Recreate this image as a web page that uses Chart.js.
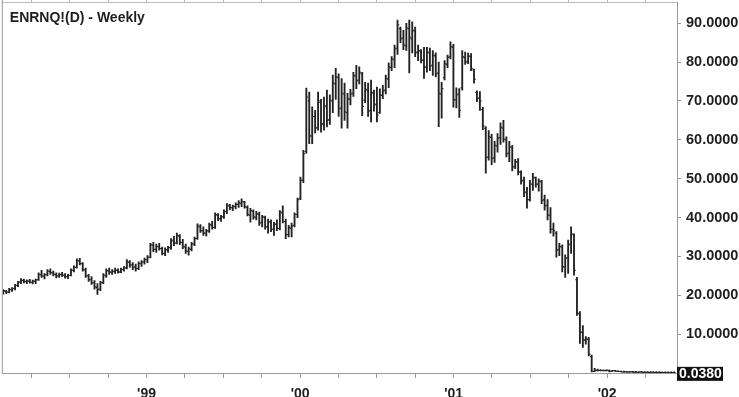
<!DOCTYPE html>
<html>
<head>
<meta charset="utf-8">
<script src="https://cdn.jsdelivr.net/npm/chart.js@4.4.1/dist/chart.umd.min.js"></script>
<style>
  html, body { margin: 0; padding: 0; background: #fff; }
  #wrap { width: 739px; height: 397px; }
</style>
</head>
<body>
<div id="wrap"><canvas id="enronChart"></canvas></div>
<script>
// weekly OHLC, one entry per week starting Jan 1998
const opens = [
  20.6,21.0,20.8,21.4,21.7,22.5,23.4,23.8,23.5,23.6,
  23.3,23.6,24.0,25.3,24.9,25.3,26.1,25.8,25.3,25.0,
  25.3,25.1,24.8,25.1,26.4,27.2,28.8,28.1,26.5,25.0,
  24.0,23.2,22.0,21.6,23.3,25.0,26.2,25.9,26.1,26.4,
  26.0,26.6,27.0,28.5,27.8,27.3,26.9,28.1,28.5,29.1,
  29.8,32.8,31.8,32.5,32.0,30.7,31.6,32.2,34.0,33.5,
  35.2,33.6,32.4,31.3,31.8,33.2,34.6,37.6,36.6,36.0,
  36.5,38.0,37.5,40.6,39.6,40.2,41.5,43.0,42.5,42.8,
  43.4,43.6,44.0,42.6,40.6,41.6,40.0,40.8,38.8,40.0,
  37.6,38.8,37.0,38.2,37.2,41.2,39.0,35.6,37.2,38.0,
  40.8,45.0,49.6,57.0,70.0,61.0,66.0,63.2,69.6,64.2,
  68.5,65.2,70.0,74.4,76.0,68.2,71.8,67.0,70.4,72.0,
  76.4,75.4,77.0,70.2,72.8,67.6,72.0,69.2,67.0,71.4,
  72.8,75.6,78.6,80.6,83.6,88.6,86.2,84.2,88.6,86.0,
  88.0,82.6,82.8,80.6,78.8,82.4,79.2,81.6,77.2,71.8,
  76.0,79.4,81.4,83.8,70.2,71.8,73.4,81.2,80.2,81.4,
  78.0,72.2,70.8,67.8,63.0,55.6,60.6,55.4,58.4,60.6,
  63.0,60.0,56.6,58.0,53.2,54.2,51.6,49.4,46.6,44.6,
  48.6,50.2,48.6,49.2,44.6,43.2,40.6,37.0,36.0,31.8,
  32.4,27.2,29.6,33.2,35.6,24.0,15.2,10.4,8.4,8.6,
  4.2,0.40,0.70,0.66,0.62,0.60,0.68,0.45,0.60,0.47,
  0.38,0.30,0.28,0.24,0.30,0.22,0.18,0.24,0.18,0.20,
  0.15,0.18,0.14,0.12,0.11,0.10,0.08,0.07,0.05
];
const highs = [
  21.5,21.3,21.8,22.0,22.8,23.6,24.3,24.2,24.0,24.1,
  23.9,24.2,25.8,26.4,25.6,26.6,26.8,26.2,25.8,25.7,
  25.9,25.6,25.4,26.8,27.6,29.4,29.5,28.4,27.0,25.4,
  24.8,23.8,23.0,23.6,25.6,26.8,27.0,26.6,27.0,26.8,
  27.0,27.4,29.2,28.9,28.4,28.0,28.6,28.9,29.6,30.2,
  33.4,33.6,33.2,33.4,32.4,32.2,32.6,34.6,35.2,36.0,
  35.6,34.4,33.2,32.4,33.6,35.0,38.4,38.2,37.6,37.0,
  38.6,39.0,41.2,41.0,40.6,42.0,43.6,43.4,43.2,43.8,
  44.4,44.8,44.2,43.0,42.4,42.0,41.6,41.4,40.6,40.4,
  39.6,39.4,38.8,39.4,41.8,43.0,39.6,38.0,38.6,41.2,
  45.0,50.4,57.3,73.3,72.3,68.5,67.6,72.3,70.4,71.0,
  72.8,71.6,76.7,78.4,77.0,75.8,74.6,72.0,73.0,77.4,
  79.2,78.8,77.4,74.8,74.6,75.4,72.8,73.6,73.1,74.0,
  76.7,79.8,81.4,84.4,90.8,89.0,88.2,90.0,90.8,90.4,
  89.0,84.4,83.2,83.8,83.8,83.6,83.0,82.4,80.0,74.8,
  80.4,81.8,85.2,84.6,73.4,73.2,83.0,82.6,82.3,82.2,
  78.2,72.6,72.4,68.4,63.4,62.4,61.4,59.6,61.6,64.4,
  65.0,60.8,59.6,58.6,55.0,55.2,52.0,50.4,47.8,49.6,
  51.4,50.4,50.0,49.6,45.8,44.6,42.6,38.6,36.4,33.4,
  33.0,30.4,34.2,37.6,35.8,24.6,15.8,12.2,9.4,9.2,
  4.6,1.20,1.01,0.85,0.74,0.80,0.72,0.70,0.68,0.55,
  0.45,0.40,0.36,0.40,0.38,0.30,0.28,0.30,0.26,0.24,
  0.22,0.24,0.20,0.18,0.16,0.15,0.12,0.10,0.08
];
const lows = [
  20.3,20.4,20.6,21.0,21.4,22.2,23.0,23.2,23.0,23.1,
  22.9,23.0,23.8,24.6,24.2,25.0,25.4,25.0,24.5,24.6,
  24.8,24.4,24.3,25.0,26.0,27.0,27.8,26.2,24.6,23.6,
  22.8,21.6,20.2,21.2,23.0,24.6,25.4,25.4,25.6,25.7,
  25.8,26.2,26.8,27.2,26.6,26.2,26.6,27.4,28.0,28.4,
  29.6,31.2,31.0,31.6,30.4,30.2,31.0,31.8,32.8,33.2,
  33.0,32.0,30.8,30.3,31.4,32.8,34.4,36.2,35.4,35.2,
  36.2,37.0,37.2,39.2,39.0,39.8,41.0,42.0,41.8,42.2,
  42.6,42.8,42.4,40.4,38.8,39.6,39.4,38.0,37.6,37.0,
  36.0,36.4,35.4,36.6,36.8,38.6,34.6,35.0,35.0,37.6,
  40.0,44.6,49.0,56.6,59.0,59.0,61.8,62.5,62.0,62.5,
  63.3,64.0,67.0,70.4,66.0,63.0,65.0,63.0,69.0,71.2,
  73.2,74.4,66.2,69.6,66.0,64.6,67.4,64.6,66.8,70.6,
  71.8,73.4,77.8,78.6,82.0,85.0,83.2,83.0,77.2,82.4,
  81.4,80.4,79.8,75.8,77.4,77.8,76.6,76.2,63.4,65.6,
  75.4,78.6,80.8,68.4,68.2,65.8,72.8,79.4,79.6,77.8,
  74.6,69.8,67.6,62.6,51.4,54.8,53.6,54.2,56.8,58.8,
  59.4,55.6,54.4,52.0,52.6,51.0,48.6,45.4,42.4,44.2,
  47.0,47.8,46.8,43.6,41.9,39.4,36.0,35.2,29.8,30.2,
  26.0,24.6,25.6,30.8,25.2,14.8,7.6,6.6,7.4,4.4,
  0.25,0.36,0.50,0.52,0.55,0.55,0.30,0.40,0.42,0.32,
  0.26,0.22,0.20,0.20,0.18,0.15,0.14,0.15,0.12,0.12,
  0.10,0.12,0.09,0.08,0.07,0.06,0.05,0.04,0.03
];
const closes = [
  21.2,20.8,21.5,21.8,22.6,23.4,23.9,23.6,23.7,23.4,
  23.7,24.0,25.4,25.0,25.3,26.2,25.8,25.4,25.0,25.4,
  25.2,24.8,25.1,26.5,27.2,28.9,28.2,26.6,25.0,24.0,
  23.2,22.2,21.5,23.2,25.2,26.4,26.0,26.2,26.5,26.0,
  26.7,27.2,28.6,27.8,27.2,26.8,28.2,28.6,29.2,29.8,
  33.0,31.8,32.6,32.0,30.8,31.8,32.3,34.2,33.4,35.4,
  33.6,32.6,31.4,32.0,33.2,34.6,37.8,36.6,36.0,36.6,
  38.2,37.4,40.8,39.8,40.2,41.6,43.2,42.6,42.9,43.4,
  43.8,44.2,42.8,40.8,41.8,40.2,41.0,38.6,40.2,37.6,
  39.0,37.0,38.4,37.2,41.4,39.0,35.6,37.4,37.8,40.8,
  44.6,49.6,56.4,71.0,61.0,66.0,63.0,70.0,64.0,68.8,
  65.0,70.2,74.6,76.2,68.0,72.0,67.2,70.6,71.8,76.6,
  75.2,77.4,68.6,73.0,67.4,72.2,69.0,66.4,71.6,72.6,
  75.8,78.8,80.8,83.4,89.6,86.0,84.4,88.8,86.4,88.2,
  82.4,83.0,80.4,78.6,82.6,79.0,81.8,77.0,72.0,73.2,
  79.6,81.2,84.0,70.4,71.6,67.6,81.4,80.0,81.6,78.4,
  75.6,70.6,70.0,63.6,55.4,60.8,55.2,58.6,60.4,63.2,
  60.2,56.4,58.2,53.0,54.4,51.8,49.6,46.4,44.6,48.6,
  50.4,48.6,49.4,44.4,43.0,40.6,37.0,36.6,31.6,32.6,
  27.4,29.6,33.0,35.8,26.4,15.4,10.6,8.6,8.8,4.8,
  0.40,0.72,0.66,0.62,0.60,0.72,0.45,0.62,0.47,0.38,
  0.30,0.28,0.24,0.32,0.22,0.18,0.24,0.18,0.20,0.15,
  0.18,0.14,0.12,0.11,0.10,0.08,0.07,0.05,0.038
];

const yearLabels = ["'99", "'00", "'01", "'02"];
const firstYearWeek = 48.7;   // week index where 1999 starts
const weeksPerYear = 52.18;
const priceTicks = [10, 20, 30, 40, 50, 60, 70, 80, 90];
const chartTitle = "ENRNQ!(D) - Weekly";

const FONT = '"Liberation Sans", Arial, sans-serif';
const INK = "#1e1e1e";
const AXIS = "#9a9a9a";

// quarter tick marks, labelled only at the start of each year
const quarterTicks = [];
const tickText = {};
for (let k = -3; k <= 14; k++) {
  const w = firstYearWeek + k * weeksPerYear / 4;
  if (w < 0 || w > closes.length) continue;
  quarterTicks.push(w);
  tickText[w.toFixed(3)] = k >= 0 && k % 4 === 0 ? yearLabels[k / 4] || "" : "";
}

const ranges = highs.map((h, i) => ({ x: i, y: [lows[i], h] }));
const openPts = opens.map((o, i) => ({ x: i, y: o }));
const closePts = closes.map((c, i) => ({ x: i, y: c }));

const framePlugin = {
  id: "frame",
  afterDraw(chart) {
    const { ctx, chartArea } = chart;
    ctx.save();
    // left border
    ctx.strokeStyle = AXIS;
    ctx.lineWidth = 1;
    ctx.beginPath();
    ctx.moveTo(chartArea.left - 0.5, 0);
    ctx.lineTo(chartArea.left - 0.5, chartArea.bottom);
    ctx.stroke();
    // title
    ctx.fillStyle = INK;
    ctx.font = "bold 14px " + FONT;
    ctx.textBaseline = "alphabetic";
    ctx.fillText(chartTitle, chartArea.left + 7, 22);
    // last price box
    const last = closes[closes.length - 1];
    const y = chart.scales.y.getPixelForValue(last);
    ctx.fillStyle = "#111";
    ctx.fillRect(chartArea.right, y - 6, 46, 14);
    ctx.fillStyle = "#fff";
    ctx.textBaseline = "middle";
    ctx.fillText(last.toFixed(4), chartArea.right + 2, y + 1.5);
    ctx.restore();
  }
};

const noPad = (s) => {
  s.paddingTop = 0; s.paddingBottom = 0; s.paddingLeft = 0; s.paddingRight = 0;
};

const xCommon = {
  type: "linear",
  min: -0.17,
  max: 229,
  offset: false,
  afterBuildTicks: (s) => { s.ticks = quarterTicks.map((v) => ({ value: v })); }
};

new Chart(document.getElementById("enronChart").getContext("2d"), {
  type: "bar",
  data: {
    datasets: [
      {
        data: ranges,
        backgroundColor: "#222",
        barThickness: 1.2,
        minBarLength: 1,
        xAxisID: "x",
        yAxisID: "y"
      },
      {
        type: "line",
        data: openPts,
        showLine: false,
        pointStyle: "dash",
        rotation: 180,
        pointRadius: 1.8,
        pointHoverRadius: 1.8,
        borderColor: "#222",
        borderWidth: 1,
        xAxisID: "x",
        yAxisID: "y"
      },
      {
        type: "line",
        data: closePts,
        showLine: false,
        pointStyle: "dash",
        rotation: 0,
        pointRadius: 1.8,
        pointHoverRadius: 1.8,
        borderColor: "#222",
        borderWidth: 1,
        xAxisID: "x",
        yAxisID: "y"
      }
    ]
  },
  options: {
    responsive: true,
    maintainAspectRatio: false,
    animation: false,
    layout: { padding: { left: 1 } },
    plugins: { legend: { display: false }, tooltip: { enabled: false } },
    scales: {
      x: {
        ...xCommon,
        position: "bottom",
        afterFit: (s) => { s.height = 24; noPad(s); },
        grid: { drawOnChartArea: false, offset: false, tickLength: 5, tickColor: AXIS },
        border: { color: AXIS },
        ticks: {
          autoSkip: false,
          maxRotation: 0,
          padding: 8,
          color: INK,
          font: { family: FONT, size: 14, weight: "bold" },
          callback: (v) => tickText[Number(v).toFixed(3)] || ""
        }
      },
      xTop: {
        ...xCommon,
        position: "top",
        afterFit: (s) => { s.height = 2; noPad(s); },
        grid: { drawOnChartArea: false, offset: false, tickLength: 3, tickColor: "#bbb" },
        border: { color: "#bbb" },
        ticks: { display: false }
      },
      y: {
        position: "right",
        min: 0,
        max: 95.27,
        afterBuildTicks: (s) => { s.ticks = priceTicks.map((v) => ({ value: v })); },
        afterFit: (s) => { s.width = 62; noPad(s); },
        grid: { drawOnChartArea: false, tickLength: 4, tickColor: AXIS },
        border: { color: AXIS },
        ticks: {
          autoSkip: false,
          padding: 5,
          color: INK,
          font: { family: FONT, size: 14.5, weight: "bold" },
          callback: (v) => Number(v).toFixed(4)
        }
      }
    }
  },
  plugins: [framePlugin]
});
</script>
</body>
</html>
